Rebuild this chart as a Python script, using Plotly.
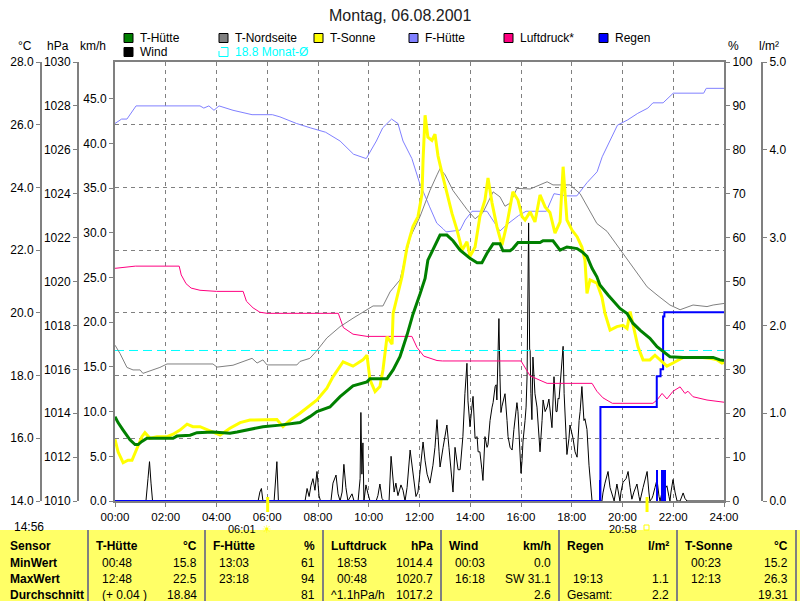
import plotly.graph_objects as go

# --- data (hours of day) ---------------------------------------------------
T_HUETTE_H = [0.00, 0.12, 0.32, 0.59, 0.79, 0.91, 1.06, 1.26, 2.29, 2.44, 2.96, 3.23, 3.86, 4.53,
              4.81, 5.20, 5.44, 5.83, 6.50, 6.78, 7.29, 7.68, 7.96, 8.47, 8.87, 9.38, 9.93, 10.05,
              10.72, 10.96, 11.23, 11.51, 11.74, 12.02, 12.22, 12.33, 12.53, 12.81, 13.08, 13.32,
              13.60, 13.99, 14.27, 14.46, 14.66, 14.90, 15.17, 15.29, 15.57, 15.68, 15.88, 16.75,
              16.87, 17.26, 17.54, 17.81, 18.21, 18.40, 18.60, 18.80, 18.99, 19.11, 19.43, 19.90,
              20.18, 20.41, 20.69, 21.08, 21.36, 21.60, 21.87, 22.39, 23.57, 23.84, 24.00]
T_HUETTE = [16.69, 16.5, 16.26, 15.95, 15.8, 15.8, 15.9, 16.0, 16.0, 16.07, 16.1, 16.18, 16.2, 16.16,
            16.2, 16.26, 16.3, 16.37, 16.42, 16.45, 16.5, 16.69, 16.85, 17.0, 17.33, 17.67, 17.8, 17.9,
            17.9, 18.18, 18.6, 19.3, 19.95, 20.6, 21.1, 21.68, 22.0, 22.48, 22.48, 22.3,
            22.0, 21.74, 21.6, 21.6, 21.9, 22.2, 22.2, 21.98, 21.98, 22.05, 22.24, 22.24,
            22.3, 22.3, 22.0, 22.1, 22.05, 21.95, 21.8, 21.42, 21.15, 20.89, 20.57, 20.14,
            19.98, 19.67, 19.45, 19.19, 18.92, 18.76, 18.6, 18.58, 18.58, 18.5, 18.48]

T_NORD_H = [0.00, 0.20, 0.47, 0.71, 0.99, 1.10, 1.38, 1.77, 2.05, 3.86, 4.02, 4.65, 5.40, 5.60, 5.83,
            5.99, 7.17, 7.29, 7.68, 7.96, 8.35, 8.87, 9.38, 9.93, 10.17, 10.56, 10.84, 11.23, 11.63,
            12.02, 12.41, 12.69, 12.81, 13.01, 13.32, 13.87, 14.19, 14.50, 14.90, 15.17, 15.37,
            15.57, 15.84, 16.36, 16.67, 17.03, 17.26, 17.93, 18.33, 18.64, 18.99, 19.39, 19.78,
            20.18, 20.57, 20.97, 21.36, 21.87, 22.27, 22.78, 23.33, 23.57, 24.00]
T_NORD = [18.97, 18.7, 18.26, 18.18, 18.18, 18.07, 18.15, 18.26, 18.37, 18.37, 18.27, 18.33, 18.55, 18.4,
          18.5, 18.34, 18.34, 18.45, 18.55, 18.8, 19.2, 19.56, 19.83, 20.1, 20.22, 20.22, 20.67, 21.05,
          22.4, 23.07, 23.9, 24.4, 24.6, 24.4, 23.9, 23.3, 23.0, 23.2, 23.86, 23.7, 23.4,
          23.5, 23.97, 23.95, 24.05, 24.18, 24.08, 24.08, 23.8, 23.33, 22.85, 22.6, 22.16,
          21.74, 21.26, 20.83, 20.57, 20.25, 20.1, 20.25, 20.2, 20.25, 20.3]

T_SONNE_H = [0.00, 0.12, 0.32, 0.51, 0.67, 0.79, 0.91, 1.06, 1.18, 1.38, 1.66, 2.05, 2.29, 2.56, 2.84,
             3.07, 3.35, 3.86, 4.14, 4.53, 4.93, 5.32, 5.99, 6.38, 6.62, 6.90, 7.29, 7.68, 7.96, 8.35,
             8.59, 8.99, 9.38, 9.77, 9.93, 10.05, 10.25, 10.44, 10.56, 10.72, 10.92, 10.96, 11.15,
             11.31, 11.51, 11.74, 11.94, 12.10, 12.14, 12.22, 12.33, 12.49, 12.61, 12.73, 12.89,
             13.08, 13.28, 13.48, 13.68, 13.87, 13.99, 14.19, 14.38, 14.58, 14.70, 14.86, 15.05,
             15.25, 15.45, 15.68, 15.88, 16.04, 16.16, 16.36, 16.55, 16.75, 16.95, 17.14, 17.34,
             17.54, 17.66, 17.81, 18.01, 18.21, 18.40, 18.52, 18.60, 18.72, 18.99, 19.19, 19.31,
             19.51, 19.78, 20.02, 20.18, 20.30, 20.41, 20.61, 20.81, 21.08, 21.28, 21.48, 21.75,
             21.99, 22.39, 23.06, 23.45, 23.73, 23.92, 24.00]
T_SONNE = [15.97, 15.57, 15.22, 15.3, 15.3, 15.52, 15.73, 16.05, 16.18, 16.0, 16.05, 16.05, 16.13, 16.26, 16.45,
           16.37, 16.37, 16.2, 16.1, 16.32, 16.5, 16.58, 16.58, 16.6, 16.37, 16.58, 16.8, 17.06, 17.22, 17.6,
           17.96, 18.44, 18.3, 18.5, 18.65, 17.86, 17.49, 17.65, 18.18, 19.24, 19.0, 19.98, 20.62,
           21.15, 22.1, 22.75, 23.07, 23.8, 24.87, 26.3, 25.6, 25.5, 25.7, 25.0, 24.45,
           23.8, 23.17, 22.64, 22.0, 22.27, 21.8, 22.1, 23.07, 23.6, 24.3, 23.5, 22.75,
           22.16, 22.85, 23.86, 23.6, 23.07, 22.96, 23.22, 22.9, 23.76, 23.38, 23.2, 22.54,
           22.9, 24.66, 22.96, 22.64, 22.43, 22.1, 21.68, 20.62, 21.05, 20.95, 20.5, 19.98,
           19.45, 19.56, 19.6, 19.5, 20.04, 19.67, 18.92, 18.5, 18.5, 18.65, 18.5, 18.3,
           18.4, 18.58, 18.58, 18.55, 18.5, 18.4, 18.42]

F_HUETTE_H = [0.00, 0.26, 0.47, 0.83, 3.35, 3.50, 3.70, 3.90, 4.10, 4.65, 5.40, 6.20, 6.50, 7.15, 7.70,
              8.30, 8.87, 9.20, 9.40, 9.90, 10.30, 10.55, 10.90, 11.15, 11.35, 11.70, 12.00, 12.40,
              12.68, 12.93, 13.05, 13.60, 13.80, 14.07, 14.66, 15.17, 15.45, 15.90, 16.20, 17.00,
              17.30, 17.80, 18.20, 18.60, 19.00, 19.20, 19.50, 19.80, 20.20, 20.60, 21.00, 21.20,
              21.60, 22.00, 23.20, 23.30, 24.00]
F_HUETTE = [86, 87, 87, 90, 90, 89.5, 90, 89, 90, 89, 88, 88, 87.5, 86, 85,
            84, 82, 80, 79, 78, 82, 85, 87, 86, 82, 78, 72.5, 67,
            63.3, 62, 61.3, 61.7, 64, 66, 66, 61.5, 63, 65, 66, 66,
            70, 69.5, 69.5, 72.5, 75, 78.4, 82, 85.6, 86.8, 88.3, 89.5, 90.7,
            90.7, 92.9, 92.9, 94, 94]

DRUCK_H = [0.00, 0.45, 0.80, 2.53, 2.61, 2.80, 3.00, 3.35, 4.00, 5.05, 5.18, 5.44, 5.71, 6.00, 8.80,
           9.00, 9.38, 9.93, 11.70, 11.90, 12.17, 12.69, 12.90, 16.00, 16.16, 16.36, 16.75, 17.03,
           18.80, 18.99, 19.23, 19.60, 21.20, 21.36, 21.56, 21.75, 21.99, 22.27, 22.46, 22.58,
           22.78, 23.33, 24.00]
DRUCK = [1020.6, 1020.65, 1020.7, 1020.7, 1020.3, 1019.9, 1019.7, 1019.6, 1019.55, 1019.55, 1019.1,
         1018.8, 1018.6, 1018.55, 1018.55, 1017.9, 1017.6, 1017.5, 1017.5, 1017.0, 1016.6, 1016.4,
         1016.38, 1016.38, 1016.05, 1015.7, 1015.5, 1015.36, 1015.36, 1015.0, 1014.7, 1014.45,
         1014.45, 1014.6, 1014.9, 1014.65, 1015.0, 1015.2, 1014.9, 1015.0, 1014.75, 1014.6, 1014.5]

REGEN_SUM_H = [0.00, 19.13, 21.35, 21.50, 21.60, 21.65, 24.00]
REGEN_SUM = [0.0, 1.07, 1.42, 1.50, 2.10, 2.15, 2.15]
REGEN_BAR_H = [19.10, 21.36, 21.58, 21.66]
REGEN_BAR = [0.24, 0.35, 0.35, 0.35]

WIND_H = [0.00, 1.22, 1.30, 1.36, 1.42, 1.48, 5.64, 5.71, 5.77, 5.83, 6.27, 6.34, 6.38, 6.44,
          7.49, 7.57, 7.65, 7.72, 7.80, 7.88, 7.96, 8.04, 8.10, 8.51, 8.59, 8.71, 8.79, 8.87,
          8.95, 9.02, 9.10, 9.18, 9.34, 9.42, 9.58, 9.66, 9.69, 9.73, 9.77, 9.81, 9.89, 9.97,
          10.05, 10.29, 10.36, 10.44, 10.52, 10.60, 10.80, 10.88, 10.92, 11.00, 11.07, 11.15,
          11.27, 11.35, 11.43, 11.51, 11.63, 11.70, 11.78, 11.86, 11.94, 12.02, 12.14, 12.22,
          12.30, 12.41, 12.53, 12.61, 12.69, 12.77, 12.81, 12.93, 13.01, 13.08, 13.16, 13.20,
          13.32, 13.40, 13.52, 13.60, 13.68, 13.71, 13.79, 13.87, 13.91, 13.99, 14.03, 14.11,
          14.19, 14.27, 14.31, 14.38, 14.46, 14.50, 14.58, 14.66, 14.70, 14.78, 14.86, 14.90,
          14.98, 15.02, 15.05, 15.13, 15.17, 15.21, 15.25, 15.29, 15.37, 15.45, 15.49, 15.57,
          15.65, 15.72, 15.76, 15.84, 15.88, 15.92, 16.00, 16.04, 16.08, 16.16, 16.20, 16.24,
          16.30, 16.34, 16.36, 16.39, 16.43, 16.47, 16.55, 16.63, 16.71, 16.75, 16.83, 16.87,
          16.95, 17.03, 17.10, 17.18, 17.22, 17.30, 17.38, 17.42, 17.46, 17.50, 17.58, 17.66,
          17.70, 17.73, 17.77, 17.81, 17.89, 17.93, 18.01, 18.05, 18.13, 18.21, 18.29, 18.33,
          18.40, 18.48, 18.52, 18.60, 18.68, 18.72, 18.80, 19.19, 19.23, 19.31, 19.43, 19.51,
          19.59, 19.67, 19.78, 19.86, 19.90, 19.94, 20.02, 20.14, 20.22, 20.30, 20.37, 20.45,
          20.57, 20.65, 20.69, 20.81, 20.97, 21.04, 21.08, 21.16, 21.20, 21.28, 21.36, 21.44,
          21.48, 21.56, 21.60, 21.68, 21.75, 21.83, 21.87, 21.91, 21.99, 22.07, 22.15, 22.27,
          22.35, 22.39, 22.46, 22.54, 24.00]
WIND = [0, 0, 2.5, 4.4, 2.0, 0, 0, 1.0, 1.4, 0, 0, 3.0, 4.4, 0,
        0, 1.4, 0.5, 1.7, 2.5, 1.2, 3.3, 0.6, 0, 0, 2.0, 2.9, 0.8, 0,
        1.0, 4.1, 1.5, 0, 0.8, 0, 0, 2.5, 9.9, 3.0, 6.5, 0, 1.8, 0.8,
        0, 0, 0.6, 1.9, 0.3, 0, 0, 5.0, 3.4, 1.0, 2.0, 0.6,
        1.8, 1.2, 0, 1.5, 5.7, 4.2, 2.0, 0.5, 1.0, 3.5, 6.6, 4.5,
        3.0, 2.0, 4.0, 6.0, 9.1, 5.5, 3.8, 6.0, 7.2, 8.5, 6.0, 4.8,
        1.0, 6.0, 3.5, 3.5, 6.5, 7.2, 12.0, 15.4, 11.2, 8.3, 9.5, 11.7,
        7.0, 7.2, 5.5, 5.5, 3.5, 2.3, 7.2, 6.0, 6.3, 9.0, 10.5, 11.0,
        12.8, 13.0, 11.3, 20.4, 14.0, 9.9, 10.6, 11.0, 12.0, 9.0, 7.2, 6.0,
        5.7, 8.0, 9.1, 11.0, 10.0, 7.0, 3.1, 4.5, 6.7, 9.0, 10.5, 14.0,
        31.1, 17.0, 16.8, 12.0, 9.1, 16.1, 12.0, 10.5, 7.0, 5.5, 9.0, 11.3,
        10.0, 10.5, 11.4, 9.0, 8.2, 13.9, 10.0, 10.0, 11.5, 11.4, 14.0, 17.3,
        12.0, 10.0, 7.0, 5.2, 7.0, 8.5, 7.5, 7.0, 5.5, 4.9, 9.0, 10.0,
        12.8, 9.0, 9.2, 8.0, 4.0, 2.3, 0, 0, 0.9, 2.0, 3.3, 1.5,
        0.6, 0, 1.9, 0.5, 0, 1.0, 2.1, 2.5, 3.3, 1.5, 0.2, 1.0,
        1.9, 0.5, 0, 1.5, 3.3, 1.0, 0, 0.3, 0.6, 1.5, 2.4, 0.5,
        0, 1.0, 0.9, 1.4, 1.7, 0.5, 0, 1.0, 2.4, 1.0, 0, 0,
        0.5, 0.9, 0.3, 0, 0]

MONAT_MITTEL = 18.8
SUNRISE_H, SUNSET_H = 6 + 1 / 60, 20 + 58 / 60

X_TICKS = list(range(0, 25, 2))
X_LABELS = [f"{h:02d}:00" for h in X_TICKS]

LEGEND = [("T-Hütte", "#008000"), ("T-Nordseite", "#808080"), ("T-Sonne", "#ffff00"),
          ("F-Hütte", "#8080ff"), ("Luftdruck*", "#ff0080"), ("Regen", "#0000ff")]

TABLE_ROWS = ["Sensor", "MinWert", "MaxWert", "Durchschnitt"]
TABLE_COLS = [
    ("T-Hütte", "°C", [("00:48", "15.8"), ("12:48", "22.5"), ("(+ 0.04 )", "18.84")]),
    ("F-Hütte", "%", [("13:03", "61"), ("23:18", "94"), ("", "81")]),
    ("Luftdruck", "hPa", [("18:53", "1014.4"), ("00:48", "1020.7"), ("^1.1hPa/h", "1017.2")]),
    ("Wind", "km/h", [("00:03", "0.0"), ("16:18", "SW 31.1"), ("", "2.6")]),
    ("Regen", "l/m²", [("", ""), ("19:13", "1.1"), ("Gesamt:", "2.2")]),
    ("T-Sonne", "°C", [("00:23", "15.2"), ("12:13", "26.3"), ("", "19.31")]),
]

# --- layout helpers (pixel -> paper) --------------------------------------
W, H = 800, 601
TOP, BOTTOM = 62, 501
PH = BOTTOM - TOP
FONT = "Liberation Sans"
GRAY = "#808080"


def px(x):
    return x / W


def py(y):
    return (BOTTOM - y) / PH


fig = go.Figure()

fig.add_trace(go.Scatter(x=WIND_H, y=WIND, yaxis="y", mode="lines",
                         line=dict(color="black", width=1)))
fig.add_trace(go.Scatter(x=DRUCK_H, y=DRUCK, yaxis="y2", mode="lines",
                         line=dict(color="#ff0080", width=1)))
fig.add_trace(go.Scatter(x=F_HUETTE_H, y=F_HUETTE, yaxis="y3", mode="lines",
                         line=dict(color="#8080ff", width=1)))
fig.add_trace(go.Bar(x=REGEN_BAR_H, y=REGEN_BAR, yaxis="y4", width=0.09,
                     marker=dict(color="#0000ff", line=dict(width=0))))
fig.add_trace(go.Scatter(x=REGEN_SUM_H, y=REGEN_SUM, yaxis="y4", mode="lines",
                         line=dict(color="#0000ff", width=2, shape="hv")))
fig.add_trace(go.Scatter(x=[0, 24], y=[MONAT_MITTEL, MONAT_MITTEL], yaxis="y5", mode="lines",
                         line=dict(color="#00ffff", width=1, dash="9px,5px")))
fig.add_trace(go.Scatter(x=T_NORD_H, y=T_NORD, yaxis="y5", mode="lines",
                         line=dict(color="#808080", width=1)))
fig.add_trace(go.Scatter(x=T_SONNE_H, y=T_SONNE, yaxis="y5", mode="lines",
                         line=dict(color="#ffff00", width=3)))
fig.add_trace(go.Scatter(x=T_HUETTE_H, y=T_HUETTE, yaxis="y5", mode="lines",
                         line=dict(color="#008000", width=3)))

tick_font = dict(family=FONT, size=12, color="black")
axis_common = dict(showline=True, linecolor=GRAY, linewidth=2, ticks="outside", ticklen=4,
                   tickcolor=GRAY, tickfont=tick_font, zeroline=False, showgrid=False,
                   automargin=False, fixedrange=True)

fig.update_layout(
    width=W, height=H, autosize=False,
    margin=dict(l=0, r=0, t=TOP, b=H - BOTTOM, pad=0),
    paper_bgcolor="white", plot_bgcolor="white",
    showlegend=False, bargap=0,
    font=dict(family=FONT, size=12, color="black"),
    xaxis=dict(axis_common, domain=[px(115), px(724)], range=[0, 24], anchor="y",
               mirror=True, tickvals=X_TICKS, ticktext=X_LABELS, ticklabelstandoff=0,
               tickfont=dict(family=FONT, size=11.5, color="black"),
               showgrid=True, gridcolor=GRAY, gridwidth=1, griddash="4px,4px"),
    yaxis=dict(axis_common, range=[0, 49.1], anchor="x", side="left",
               tickvals=list(range(0, 50, 5)), tickformat=".1f"),
    yaxis2=dict(axis_common, range=[1010, 1030], dtick=2, overlaying="y", anchor="free",
                position=px(78), side="left"),
    yaxis3=dict(axis_common, range=[0, 100], dtick=10, overlaying="y", anchor="x", side="right"),
    yaxis4=dict(axis_common, range=[0, 5], dtick=1, tickformat=".1f", overlaying="y",
                anchor="free", position=px(762), side="right"),
    yaxis5=dict(axis_common, range=[14, 28], dtick=2, tickformat=".1f", overlaying="y",
                anchor="free", position=px(41), side="left",
                showgrid=True, gridcolor=GRAY, gridwidth=1, griddash="4px,4px"),
)

shapes = []
ann = []


def text(x, y, s, anchor="left", size=12, color="black", bold=False):
    if bold:
        s = f"<b>{s}</b>"
    ann.append(dict(x=px(x), y=py(y), xref="paper", yref="paper", text=s, showarrow=False,
                    xanchor=anchor, yanchor="middle",
                    font=dict(family=FONT, size=size, color=color)))


# title and axis units
text(400, 15, "Montag, 06.08.2001", anchor="center", size=16, color="#202020")
for label, x in [("°C", 25), ("hPa", 58), ("km/h", 93), ("%", 733), ("l/m²", 769)]:
    text(x, 46, label, anchor="center", size=12)

# legend boxes
legend_x = [124, 219, 314, 409, 504, 599]
for (name, col), lx in zip(LEGEND, legend_x):
    shapes.append(dict(type="rect", xref="paper", yref="paper", x0=px(lx), x1=px(lx + 9),
                       y0=py(42.5), y1=py(33.5), fillcolor=col, line=dict(color="black", width=1)))
    text(lx + 14, 38, name)
shapes.append(dict(type="rect", xref="paper", yref="paper", x0=px(124), x1=px(133),
                   y0=py(56.5), y1=py(47.5), fillcolor="black", line=dict(color="black", width=1)))
text(138, 52, "Wind")
shapes.append(dict(type="path", xref="paper", yref="paper",
                   path=f"M {px(221)},{py(47.5)} L {px(228)},{py(47.5)} L {px(228)},{py(56.5)} "
                        f"L {px(219)},{py(56.5)} L {px(219)},{py(51)}",
                   line=dict(color="#00ffff", width=1)))
text(233, 52, f"{MONAT_MITTEL:.1f} Monat-Ø", color="#00ffff")

# sunrise / sunset marks
for h in (SUNRISE_H, SUNSET_H):
    shapes.append(dict(type="line", xref="x", yref="paper", x0=h, x1=h, y0=py(512), y1=py(497),
                       line=dict(color="#ffff00", width=3)))
text(258, 529, "06:01", anchor="right", size=11)
text(267, 529, "☀", anchor="center", size=11, color="#ffff00")
text(639, 529, "20:58", anchor="right", size=11)
shapes.append(dict(type="rect", xref="paper", yref="paper", x0=px(644), x1=px(649),
                   y0=py(530), y1=py(525), line=dict(color="#ffff00", width=1)))
text(12, 527, "14:56")

# statistics table
shapes.append(dict(type="rect", xref="paper", yref="paper", x0=0, x1=1, y0=py(601), y1=py(530),
                   fillcolor="#ffff66", line=dict(width=0), layer="below"))
col_edges = [88, 205, 323, 441, 559, 677, 796]
for xe in col_edges:
    shapes.append(dict(type="line", xref="paper", yref="paper", x0=px(xe), x1=px(xe),
                       y0=py(601), y1=py(530), line=dict(color=GRAY, width=2)))
row_y = [546, 562.5, 579, 595]
for label, y in zip(TABLE_ROWS, row_y):
    text(8, y, label, bold=True)
for (head, unit, cells), x0, x1 in zip(TABLE_COLS, col_edges[:-1], col_edges[1:]):
    text(x0 + 6, row_y[0], head, bold=True)
    text(x1 - 6, row_y[0], unit, anchor="right", bold=True)
    for (left, right), y in zip(cells, row_y[1:]):
        if left:
            lx = x0 + 6 if left in ("Gesamt:", "^1.1hPa/h") else x0 + 12
            text(lx, y, left)
        if right:
            text(x1 - 6, y, right, anchor="right")

fig.update_layout(shapes=shapes, annotations=ann)
fig.write_html("out.html", config={"displayModeBar": False},
               post_script="document.body.style.margin='0';document.body.style.overflow='hidden';")
